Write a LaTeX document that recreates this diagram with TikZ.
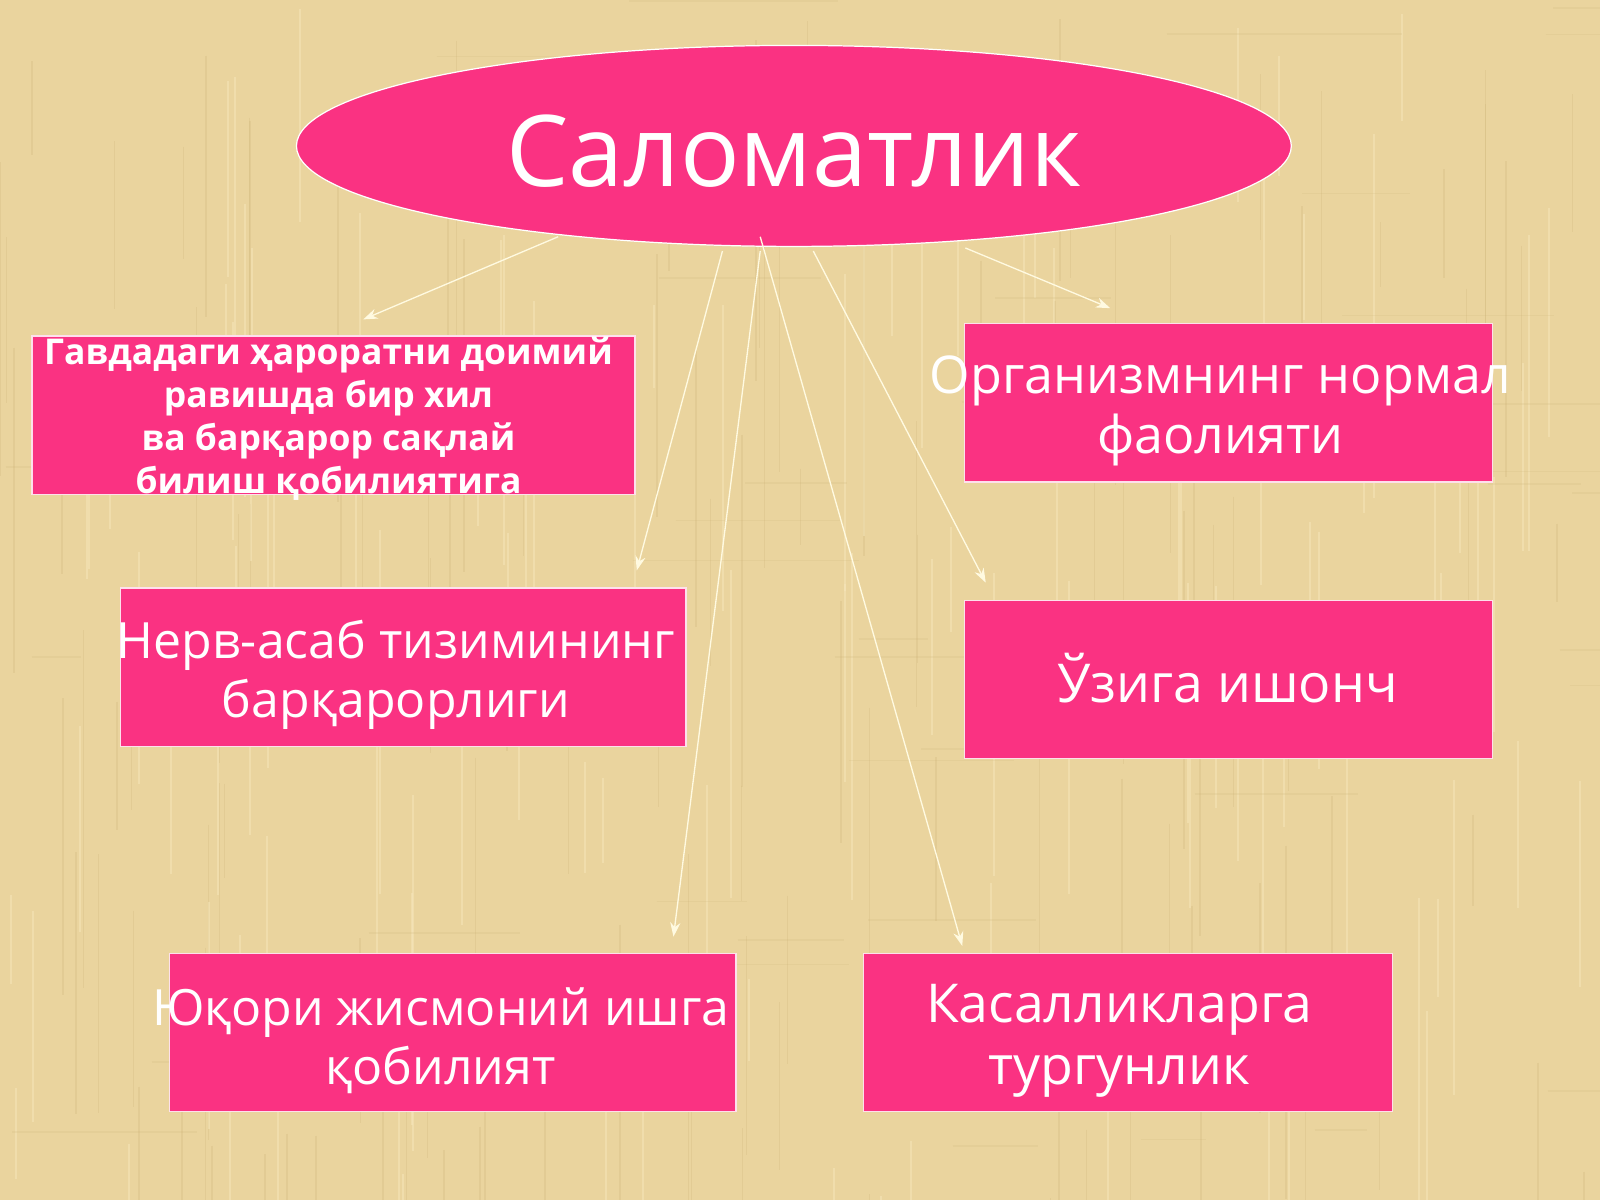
\documentclass[tikz,border=0pt]{standalone}
\usepackage{fontspec}
\setmainfont{Open Sans}
\usetikzlibrary{shapes.geometric,arrows.meta}
\definecolor{bg}{RGB}{234,212,158}
\definecolor{bgdark}{RGB}{205,180,120}
\definecolor{bglight}{RGB}{248,232,190}
\definecolor{pinkbox}{RGB}{250,50,130}
\definecolor{arrowc}{RGB}{255,250,225}
\tikzset{
  box/.style={draw=white!85!pinkbox, line width=0.6pt, fill=pinkbox, minimum width=#1, minimum height=155pt, inner sep=0pt, anchor=north west},
  box/.default=517pt,
  txt/.style={text=white, align=center, inner sep=0pt},
  conn/.style={draw=arrowc, line width=0.65pt, -{Stealth[length=7pt,width=5pt]}}
}
\begin{document}
\begin{tikzpicture}[x=0.5pt,y=-0.5pt,every node/.append style={transform shape}]
\useasboundingbox (0,0) rectangle (1568,1176);
\fill[bg] (0,0) rectangle (1620,1220);
% background texture
\begin{scope}
\clip (0,0) rectangle (1620,1220);
\pgfmathsetseed{7}
\foreach \i in {1,...,140}{
  \pgfmathsetmacro{\xx}{rnd*1620}
  \pgfmathsetmacro{\ya}{rnd*1220}
  \pgfmathsetmacro{\yl}{60+rnd*300}
  \draw[bgdark, opacity=0.25, line width=0.7pt] (\xx,\ya) -- ++(0,\yl);
}
\foreach \i in {1,...,120}{
  \pgfmathsetmacro{\xx}{rnd*1620}
  \pgfmathsetmacro{\ya}{rnd*1220}
  \pgfmathsetmacro{\yl}{60+rnd*300}
  \draw[bglight, opacity=0.45, line width=1pt] (\xx,\ya) -- ++(0,\yl);
}
\foreach \i in {1,...,60}{
  \pgfmathsetmacro{\xx}{rnd*1620}
  \pgfmathsetmacro{\ya}{rnd*1220}
  \pgfmathsetmacro{\xl}{40+rnd*200}
  \draw[bgdark, opacity=0.18, line width=0.8pt] (\xx,\ya) -- ++(\xl,0);
}
\end{scope}
% title
\node[ellipse, draw=white, line width=0.6pt, fill=pinkbox, minimum width=975pt, minimum height=197pt, inner sep=0pt, scale=0.5] (title) at (778,143) {};
\node[text=white, font=\fontsize{97}{110}\selectfont, inner sep=0pt, scale=0.5] (titletext) at (778,148) {Саломатлик};
% boxes
\node[box=591pt, scale=0.5] (b1) at (31,329) {};
\node[box, scale=0.5] (b2) at (945,317) {};
\node[box=554pt, scale=0.5] (b3) at (118,576) {};
\node[box, scale=0.5] (b4) at (945,588) {};
\node[box=555pt, scale=0.5] (b5) at (166,934) {};
\node[box=518pt, scale=0.5] (b6) at (846,934) {};
% texts
\node[txt, font=\bfseries\fontsize{34.8}{42}\selectfont, scale=0.5] (t1) at (322,410) {Гавдадаги ҳароратни доимий\\равишда бир хил\\ва барқарор сақлай\\билиш қобилиятига};
\node[txt, font=\fontsize{51}{59}\selectfont, scale=0.5] (t2) at (1196,403) {Организмнинг нормал\\фаолияти};
\node[txt, font=\fontsize{49}{58}\selectfont, scale=0.5] (t3) at (388,661) {Нерв-асаб тизимининг\\барқарорлиги};
\node[txt, font=\fontsize{52.5}{60}\selectfont, scale=0.5] (t4) at (1203,665) {Ўзига ишонч};
\node[txt, font=\fontsize{49}{58}\selectfont, scale=0.5] (t5) at (432,1020) {Юқори жисмоний ишга\\қобилият};
\node[txt, font=\fontsize{52.5}{60}\selectfont, scale=0.5] (t6) at (1097,1020) {Касалликларга\\тургунлик};
% connector coordinates
\coordinate (s1) at (547,232);
\coordinate (e1) at (356,313);
\coordinate (s2) at (708,246);
\coordinate (e2) at (624,559);
\coordinate (s3) at (745,246);
\coordinate (e3) at (660,918);
\coordinate (s4) at (745,232);
\coordinate (e4) at (943,927);
\coordinate (s5) at (797,246);
\coordinate (e5) at (966,571);
\coordinate (s6) at (946,243);
\coordinate (e6) at (1088,302);
\draw[conn] (s1) -- (e1);
\draw[conn] (s2) -- (e2);
\draw[conn] (s3) -- (e3);
\draw[conn] (s4) -- (e4);
\draw[conn] (s5) -- (e5);
\draw[conn] (s6) -- (e6);
\end{tikzpicture}
\end{document}
